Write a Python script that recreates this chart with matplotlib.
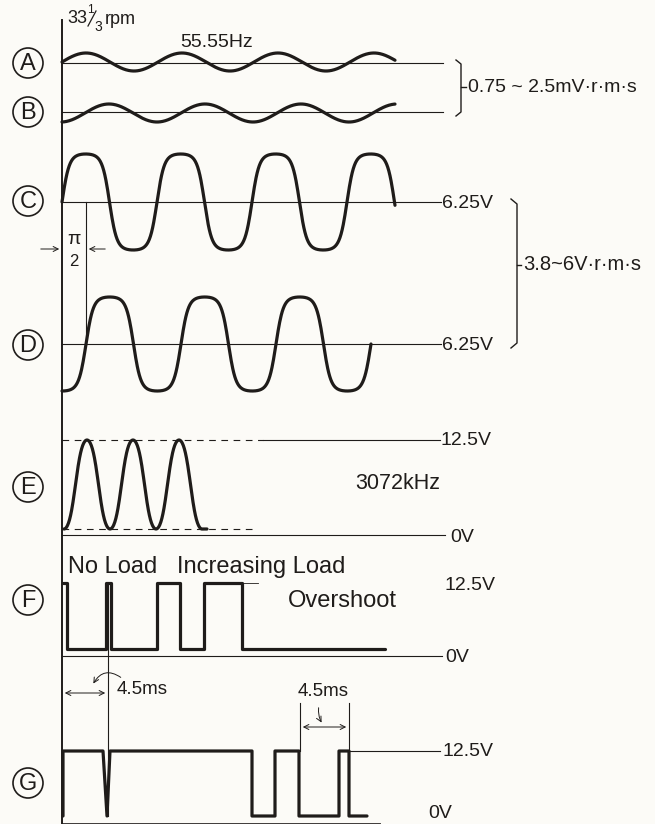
import numpy as np
import matplotlib.pyplot as plt
from matplotlib.patches import Circle, FancyArrowPatch

plt.rcParams['font.family'] = ['Liberation Sans', 'DejaVu Sans']

INK = '#1f1c1a'
PAPER = '#fcfbf7'

# channel tags and their vertical positions (page pixels)
channels = ['A', 'B', 'C', 'D', 'E', 'F', 'G']
channel_y = [63, 112, 201, 345, 487, 600, 783]

# sine-type traces: centre, amplitude, period, phase origin, x range, squaring
wave_names = ['A', 'B', 'C', 'D']
wave_centre = [62, 113, 202, 344]
wave_amp = [9, 9, 48, 47]
wave_period = [96, 96, 95, 95]
wave_origin = [62, 85, 62, 86]
wave_start = [62, 62, 62, 62]
wave_end = [395, 395, 395, 371]
wave_square = [0.0, 0.0, 2.0, 2.0]

# 3072 kHz clock burst (E)
clk_start, clk_end, clk_flat = 64, 202, 207
clk_period = 46
clk_top, clk_bottom = 440, 529

# F: motor drive pulses, vertices as (x, level)
f_x = [63, 67, 67, 106, 106, 111, 111, 157, 157, 180, 180, 204, 204, 242, 242, 385]
f_lvl = [1, 1, 0, 0, 1, 1, 0, 0, 1, 1, 0, 0, 1, 1, 0, 0]
f_high, f_low = 583, 649

# G: speed pulses
g_x = [63, 63, 103, 107, 110, 252, 252, 275, 275, 299, 299, 339, 339, 349, 349, 367]
g_lvl = [0, 1, 1, 0, 1, 1, 0, 0, 1, 1, 0, 0, 1, 1, 0, 0]
g_high, g_low = 751, 816

fig = plt.figure(figsize=(6.55, 8.24), dpi=100, facecolor=PAPER)
ax = fig.add_axes([0, 0, 1, 1])
ax.set_xlim(0, 655)
ax.set_ylim(824, 0)
ax.axis('off')
ax.set_facecolor(PAPER)

thin = dict(color=INK, lw=0.8)
thick = dict(color=INK, lw=2.3, solid_capstyle='round', solid_joinstyle='round')

# time axis
ax.plot([62, 62], [20, 824], color=INK, lw=1.4)

# channel tags
for name, y in zip(channels, channel_y):
    ax.add_patch(Circle((28, y), 15, fill=False, ec=INK, lw=1.2))
    ax.text(28, y + 1, name, fontsize=17, ha='center', va='center', color=INK)

# sine traces
for i in range(len(wave_names)):
    x = np.linspace(wave_start[i], wave_end[i], 600)
    s = np.sin(2 * np.pi * (x - wave_origin[i]) / wave_period[i])
    if wave_square[i] > 0:
        k = wave_square[i]
        s = np.tanh(k * s) / np.tanh(k)
    ax.plot(x, wave_centre[i] - wave_amp[i] * s, **thick)

# reference lines for A-D
ax.plot([62, 443], [63, 63], **thin)
ax.plot([62, 443], [112, 112], **thin)
ax.plot([62, 441], [202, 202], **thin)
ax.plot([62, 441], [344, 344], **thin)

# E burst
x = np.linspace(clk_start, clk_end, 400)
v = (1 - np.cos(2 * np.pi * (x - clk_start) / clk_period)) / 2
v = np.tanh(1.6 * (v - 0.5)) / np.tanh(0.8) / 2 + 0.5
xe = np.append(x, clk_flat)
ye = np.append(clk_bottom - (clk_bottom - clk_top) * v, clk_bottom)
ax.plot(xe, ye, **thick)
ax.plot([62, 263], [clk_top, clk_top], color=INK, lw=0.8, ls=(0, (6, 5)))
ax.plot([263, 440], [clk_top, clk_top], **thin)
ax.plot([62, 253], [clk_bottom, clk_bottom], color=INK, lw=0.8, ls=(0, (6, 5)))
ax.plot([62, 445], [535, 535], **thin)

# F and G pulse trains
ax.plot(f_x, [f_high if l else f_low for l in f_lvl], **thick)
ax.plot([242, 258], [f_high, f_high], color=INK, lw=0.6)
ax.plot([62, 442], [656, 656], **thin)
ax.plot(g_x, [g_high if l else g_low for l in g_lvl], **thick)
ax.plot([349, 440], [g_high, g_high], **thin)
ax.plot([62, 380], [823, 823], color=INK, lw=0.6)

# pi/2 phase marker between C and D
ax.plot([86, 86], [202, 344], **thin)
arrow = dict(arrowstyle='->', color=INK, lw=0.7, mutation_scale=9)
ax.add_patch(FancyArrowPatch((38, 249), (62, 249), **arrow))
ax.add_patch(FancyArrowPatch((108, 249), (86, 249), **arrow))
ax.text(74, 239, 'π', fontsize=14, ha='center', va='center', color=INK)
ax.text(74, 261, '2', fontsize=12, ha='center', va='center', color=INK)

# 4.5 ms marker at the first pulse
ax.plot([108, 108], [f_high, g_low], **thin)
dbl = dict(arrowstyle='<->', color=INK, lw=0.7, mutation_scale=9)
ax.add_patch(FancyArrowPatch((62, 693), (108, 693), **dbl))
ax.add_patch(FancyArrowPatch((123, 679), (92, 686), connectionstyle='arc3,rad=0.6',
                             **arrow))
ax.text(117, 690, '4.5ms', fontsize=13.5, ha='left', va='center', color=INK)

# 4.5 ms marker on G
ax.plot([300, 300], [703, g_high], **thin)
ax.plot([349, 349], [703, g_high], **thin)
ax.add_patch(FancyArrowPatch((300, 727), (349, 727), **dbl))
ax.add_patch(FancyArrowPatch((319, 705), (323, 725), connectionstyle='arc3,rad=0.2',
                             **arrow))
ax.text(323, 692, '4.5ms', fontsize=13.5, ha='center', va='center', color=INK)

# brackets
ax.plot([456, 461, 461, 461, 456], [60, 64, 87, 112, 116], color=INK, lw=1.0)
ax.plot([461, 466], [87, 87], color=INK, lw=1.0)
ax.plot([511, 517, 517, 511], [199, 204, 343, 348], color=INK, lw=1.0)
ax.plot([517, 521], [265, 265], color=INK, lw=1.0)

# texts
ax.text(67, 18, '33', fontsize=13, ha='left', va='center', color=INK)
ax.text(87, 10, '1', fontsize=8.5, ha='left', va='center', color=INK)
ax.plot([88, 96], [26, 11], color=INK, lw=0.9)
ax.text(94.5, 27, '3', fontsize=10, ha='left', va='center', color=INK)
ax.text(105, 19, 'rpm', fontsize=13, ha='left', va='center', color=INK)
ax.text(180, 42, '55.55Hz', fontsize=14, ha='left', va='center', color=INK)
ax.text(468, 87, '0.75 ~ 2.5mV·r·m·s', fontsize=14, ha='left', va='center', color=INK)
ax.text(442, 203, '6.25V', fontsize=14, ha='left', va='center', color=INK)
ax.text(442, 345, '6.25V', fontsize=14, ha='left', va='center', color=INK)
ax.text(523, 265, '3.8~6V·r·m·s', fontsize=14.5, ha='left', va='center', color=INK)
ax.text(440, 440, '12.5V', fontsize=14, ha='left', va='center', color=INK)
ax.text(355, 483, '3072kHz', fontsize=15.5, ha='left', va='center', color=INK)
ax.text(450, 537, '0V', fontsize=14, ha='left', va='center', color=INK)
ax.text(68, 567, 'No Load', fontsize=17, ha='left', va='center', color=INK)
ax.text(177, 567, 'Increasing Load', fontsize=17, ha='left', va='center', color=INK)
ax.text(445, 586, '12.5V', fontsize=14, ha='left', va='center', color=INK)
ax.text(288, 601, 'Overshoot', fontsize=17, ha='left', va='center', color=INK)
ax.text(445, 657, '0V', fontsize=14, ha='left', va='center', color=INK)
ax.text(442, 752, '12.5V', fontsize=14, ha='left', va='center', color=INK)
ax.text(428, 813, '0V', fontsize=14, ha='left', va='center', color=INK)

fig.savefig('out.png', dpi=100, facecolor=PAPER)
